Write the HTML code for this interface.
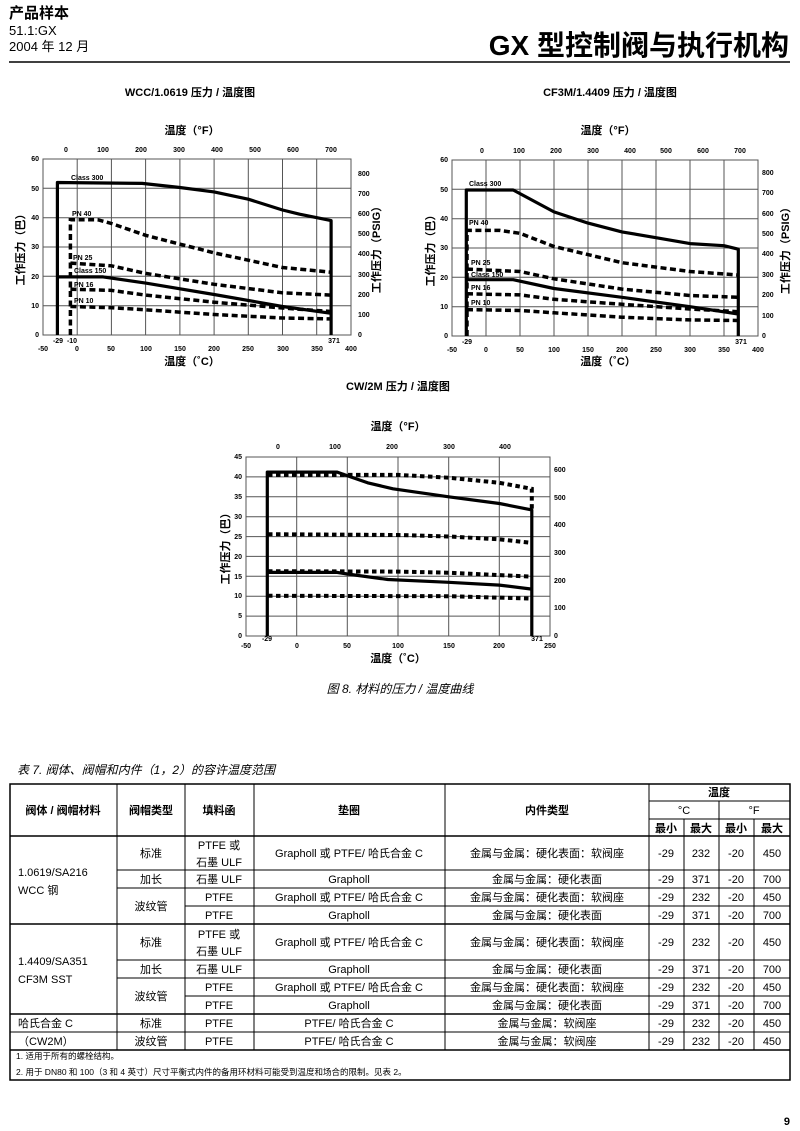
<!DOCTYPE html>
<html><head><meta charset="utf-8"><style>
html,body{margin:0;padding:0;background:#fff}
svg{display:block;font-family:"Liberation Sans","Noto Sans CJK SC",sans-serif}
.t{font-size:7px;font-weight:bold}
.g{stroke:#555;stroke-width:1;fill:none}
.s{stroke:#000;stroke-width:3.2;fill:none;stroke-linejoin:round}
.d{stroke:#000;stroke-width:3.5;fill:none;stroke-dasharray:6 3.5}
.o{stroke:#000;stroke-width:4;fill:none;stroke-dasharray:4.5 3.5}
.tb{stroke:#000;stroke-width:1;fill:none}
</style></head><body>
<svg width="800" height="1131" viewBox="0 0 800 1131">
<text x="9" y="18" font-size="15" font-weight="bold">产品样本</text>
<text x="9" y="35" font-size="13">51.1:GX</text>
<text x="9" y="51" font-size="13">2004 年 12 月</text>
<text x="789" y="55" font-size="28" font-weight="bold" text-anchor="end">GX 型控制阀与执行机构</text>
<line x1="9" y1="62" x2="790" y2="62" stroke="#000" stroke-width="1.5"/>

<text x="190" y="96" font-size="11" font-weight="bold" text-anchor="middle">WCC/1.0619 压力 / 温度图</text>
<text x="610" y="96" font-size="11" font-weight="bold" text-anchor="middle">CF3M/1.4409 压力 / 温度图</text>

<text x="192" y="134" font-size="11" font-weight="bold" text-anchor="middle">温度（°F）</text>
<g class="g">
<rect x="43" y="159" width="308" height="176"/>
<path d="M77.2 159V335M111.4 159V335M145.6 159V335M179.9 159V335M214.1 159V335M248.3 159V335M282.5 159V335M316.7 159V335"/>
<path d="M43 305.7H351M43 276.3H351M43 247H351M43 217.7H351M43 188.3H351"/>
</g>
<g class="t" text-anchor="middle">
<text x="43" y="351">-50</text><text x="77" y="351">0</text><text x="111" y="351">50</text><text x="146" y="351">100</text><text x="180" y="351">150</text><text x="214" y="351">200</text><text x="248" y="351">250</text><text x="283" y="351">300</text><text x="317" y="351">350</text><text x="351" y="351">400</text>
<text x="58" y="343">-29</text><text x="72" y="343">-10</text><text x="334" y="343">371</text>
<text x="66" y="152">0</text><text x="103" y="152">100</text><text x="141" y="152">200</text><text x="179" y="152">300</text><text x="217" y="152">400</text><text x="255" y="152">500</text><text x="293" y="152">600</text><text x="331" y="152">700</text>
</g>
<g class="t" text-anchor="end">
<text x="39" y="337">0</text><text x="39" y="308">10</text><text x="39" y="279">20</text><text x="39" y="249">30</text><text x="39" y="220">40</text><text x="39" y="191">50</text><text x="39" y="161">60</text>
</g>
<g class="t">
<text x="358" y="337">0</text><text x="358" y="317">100</text><text x="358" y="297">200</text><text x="358" y="277">300</text><text x="358" y="256">400</text><text x="358" y="236">500</text><text x="358" y="216">600</text><text x="358" y="196">700</text><text x="358" y="176">800</text>
<text x="71" y="180">Class 300</text><text x="72" y="216">PN 40</text><text x="73" y="260">PN 25</text><text x="74" y="273">Class 150</text><text x="74" y="287">PN 16</text><text x="74" y="303">PN 10</text>
</g>
<path class="s" d="M57.4 335V182.5L142.2 183.4L179.9 187.5L214.1 191.9L248.3 199.2L282.5 210L299.6 214.2L331.1 220.6V335"/>
<path class="s" d="M57.4 276.9H103.2L145.6 283.1L214.1 294.5L282.5 306.5L331.1 313.3"/>
<path class="d" d="M70.4 335V219.7H97.7L111.4 223.5L145.6 235.3L214.1 252.9L282.5 267.5L331.1 272.2"/>
<path class="d" d="M70.4 263.1L111.4 265.8L145.6 273.4L214.1 284.3L282.5 292.8L331.1 295.1"/>
<path class="d" d="M70.4 289.2L111.4 290.4L145.6 295.1L214.1 302.2L282.5 308L331.1 311.5"/>
<path class="d" d="M70.4 306.5L111.4 307.7L145.6 309.8L214.1 314.5L282.5 318L331.1 318.9"/>
<text x="192" y="365" font-size="11" font-weight="bold" text-anchor="middle">温度（˚C）</text>
<text transform="translate(24 247) rotate(-90)" font-size="11" font-weight="bold" text-anchor="middle">工作压力（巴）</text>
<text transform="translate(380 247) rotate(-90)" font-size="11" font-weight="bold" text-anchor="middle">工作压力（PSIG）</text>

<text x="608" y="134" font-size="11" font-weight="bold" text-anchor="middle">温度（°F）</text>
<g class="g">
<rect x="452" y="160" width="306" height="176"/>
<path d="M486 160V336M520 160V336M554 160V336M588 160V336M622 160V336M656 160V336M690 160V336M724 160V336"/>
<path d="M452 306.7H758M452 277.3H758M452 248H758M452 218.7H758M452 189.3H758"/>
</g>
<g class="t" text-anchor="middle">
<text x="452" y="352">-50</text><text x="486" y="352">0</text><text x="520" y="352">50</text><text x="554" y="352">100</text><text x="588" y="352">150</text><text x="622" y="352">200</text><text x="656" y="352">250</text><text x="690" y="352">300</text><text x="724" y="352">350</text><text x="758" y="352">400</text>
<text x="467" y="344">-29</text><text x="741" y="344">371</text>
<text x="482" y="153">0</text><text x="519" y="153">100</text><text x="556" y="153">200</text><text x="593" y="153">300</text><text x="630" y="153">400</text><text x="666" y="153">500</text><text x="703" y="153">600</text><text x="740" y="153">700</text>
</g>
<g class="t" text-anchor="end">
<text x="448" y="338">0</text><text x="448" y="309">10</text><text x="448" y="280">20</text><text x="448" y="250">30</text><text x="448" y="221">40</text><text x="448" y="192">50</text><text x="448" y="162">60</text>
</g>
<g class="t">
<text x="762" y="338">0</text><text x="762" y="318">100</text><text x="762" y="297">200</text><text x="762" y="277">300</text><text x="762" y="256">400</text><text x="762" y="236">500</text><text x="762" y="216">600</text><text x="762" y="195">700</text><text x="762" y="175">800</text>
<text x="469" y="186">Class 300</text><text x="469" y="225">PN 40</text><text x="471" y="265">PN 25</text><text x="471" y="277">Class 150</text><text x="471" y="290">PN 16</text><text x="471" y="305">PN 10</text>
</g>
<path class="s" d="M466.3 336V190H513.2L554 211.9L588 223.1L622 231.9L656 237.7L690 243.6L724 245.7L738.3 249.2V336"/>
<path class="s" d="M466.3 279.7H513.2L554 288.5L622 297.3L690 306.7L738.3 314"/>
<path class="d" d="M467 336V230.4H499.6L520 233.3L554 246.5L622 262.7L690 271.5L738.3 275"/>
<path class="d" d="M467 269.1L520 271.5L554 278.8L622 289.1L690 295.5L738.3 297.3"/>
<path class="d" d="M467 293.8L520 294.9L554 299.3L622 304.3L690 309L738.3 311.7"/>
<path class="d" d="M467 309.6L520 310.5L554 312.8L622 317.2L690 319.9L738.3 320.5"/>
<text x="608" y="365" font-size="11" font-weight="bold" text-anchor="middle">温度（˚C）</text>
<text transform="translate(434 248) rotate(-90)" font-size="11" font-weight="bold" text-anchor="middle">工作压力（巴）</text>
<text transform="translate(789 248) rotate(-90)" font-size="11" font-weight="bold" text-anchor="middle">工作压力（PSIG）</text>

<text x="398" y="390" font-size="11" font-weight="bold" text-anchor="middle">CW/2M 压力 / 温度图</text>
<text x="398" y="430" font-size="11" font-weight="bold" text-anchor="middle">温度（°F）</text>
<g class="g">
<rect x="246" y="457" width="304" height="179"/>
<path d="M296.7 457V636M347.3 457V636M398 457V636M448.7 457V636M499.3 457V636"/>
<path d="M246 616.1H550M246 596.2H550M246 576.3H550M246 556.4H550M246 536.6H550M246 516.7H550M246 496.8H550M246 476.9H550"/>
</g>
<g class="t" text-anchor="middle">
<text x="246" y="648">-50</text><text x="297" y="648">0</text><text x="347" y="648">50</text><text x="398" y="648">100</text><text x="449" y="648">150</text><text x="499" y="648">200</text><text x="550" y="648">250</text>
<text x="267" y="641">-29</text><text x="537" y="641">371</text>
<text x="278" y="449">0</text><text x="335" y="449">100</text><text x="392" y="449">200</text><text x="449" y="449">300</text><text x="505" y="449">400</text>
</g>
<g class="t" text-anchor="end">
<text x="242" y="638">0</text><text x="242" y="618">5</text><text x="242" y="598">10</text><text x="242" y="579">15</text><text x="242" y="559">20</text><text x="242" y="539">25</text><text x="242" y="519">30</text><text x="242" y="499">35</text><text x="242" y="479">40</text><text x="242" y="459">45</text>
</g>
<g class="t">
<text x="554" y="638">0</text><text x="554" y="610">100</text><text x="554" y="583">200</text><text x="554" y="555">300</text><text x="554" y="527">400</text><text x="554" y="500">500</text><text x="554" y="472">600</text>
</g>
<path class="s" d="M267.3 636V472.1H337.2L347.4 475.7L367.6 482.8L393 488.8L448.7 496.8L499.4 503.5L531.8 509.9V636"/>
<path class="s" d="M267.3 572.4H337.2L347.4 574L387.9 579.5L448.7 582.3L499.4 585.1L531.8 589.1"/>
<path class="o" d="M268 474.9H398L448.7 477.7L499.4 482.8L531.8 488.8V509"/>
<path class="o" d="M268 534.2L398 535L448.7 536.5L499.4 539.3L531.8 542.9"/>
<path class="o" d="M268 571.2L398 571.6L448.7 572.7L499.4 575.1L531.8 576.7"/>
<path class="o" d="M268 595.8L448.7 596.2L531.8 598.6"/>
<text x="398" y="662" font-size="11" font-weight="bold" text-anchor="middle">温度（˚C）</text>
<text transform="translate(229 546) rotate(-90)" font-size="11" font-weight="bold" text-anchor="middle">工作压力（巴）</text>

<text x="400" y="693" font-size="12" font-style="italic" text-anchor="middle">图 8. 材料的压力 / 温度曲线</text>
<text x="17" y="774" font-size="12" font-style="italic">表 7. 阀体、阀帽和内件（1，2）的容许温度范围</text>

<g class="tb">
<rect x="10" y="784" width="780" height="296" stroke-width="1.5"/>
<path d="M10 836H790M10 924H790M10 1014H790M10 1050H790" stroke-width="1.5"/>
<path d="M117 784V1050M185 784V1050M254 784V1050M445 784V1050M649 784V1050M719 801V1050M684 819V1050M754 819V1050"/>
<path d="M649 801H790M649 819H790"/>
<path d="M117 870H790M117 888H790M185 906H790M117 960H790M117 978H790M185 996H790M10 1032H790"/>
</g>
<g font-size="11">
<g text-anchor="middle" font-weight="bold">
<text x="63" y="814">阀体 / 阀帽材料</text><text x="151" y="814">阀帽类型</text><text x="219" y="814">填料函</text><text x="349" y="814">垫圈</text><text x="547" y="814">内件类型</text>
<text x="719" y="796">温度</text><text x="684" y="814" font-weight="normal">°C</text><text x="754" y="814" font-weight="normal">°F</text>
<text x="666" y="832">最小</text><text x="701" y="832">最大</text><text x="736" y="832">最小</text><text x="772" y="832">最大</text>
</g>
<text x="18" y="876">1.0619/SA216</text><text x="18" y="894">WCC 钢</text>
<text x="18" y="965">1.4409/SA351</text><text x="18" y="983">CF3M SST</text>
<text x="18" y="1027">哈氏合金 C</text><text x="18" y="1045">（CW2M）</text>
<g text-anchor="middle">
<text x="151" y="857">标准</text><text x="219" y="849">PTFE 或</text><text x="219" y="866">石墨 ULF</text><text x="349" y="857">Grapholl 或 PTFE/ 哈氏合金 C</text><text x="547" y="857">金属与金属：硬化表面：软阀座</text>
<text x="666" y="857">-29</text><text x="701" y="857">232</text><text x="736" y="857">-20</text><text x="772" y="857">450</text>
<text x="151" y="883">加长</text><text x="219" y="883">石墨 ULF</text><text x="349" y="883">Grapholl</text><text x="547" y="883">金属与金属：硬化表面</text>
<text x="666" y="883">-29</text><text x="701" y="883">371</text><text x="736" y="883">-20</text><text x="772" y="883">700</text>
<text x="151" y="910">波纹管</text>
<text x="219" y="901">PTFE</text><text x="349" y="901">Grapholl 或 PTFE/ 哈氏合金 C</text><text x="547" y="901">金属与金属：硬化表面：软阀座</text>
<text x="666" y="901">-29</text><text x="701" y="901">232</text><text x="736" y="901">-20</text><text x="772" y="901">450</text>
<text x="219" y="919">PTFE</text><text x="349" y="919">Grapholl</text><text x="547" y="919">金属与金属：硬化表面</text>
<text x="666" y="919">-29</text><text x="701" y="919">371</text><text x="736" y="919">-20</text><text x="772" y="919">700</text>
<text x="151" y="946">标准</text><text x="219" y="938">PTFE 或</text><text x="219" y="955">石墨 ULF</text><text x="349" y="946">Grapholl 或 PTFE/ 哈氏合金 C</text><text x="547" y="946">金属与金属：硬化表面：软阀座</text>
<text x="666" y="946">-29</text><text x="701" y="946">232</text><text x="736" y="946">-20</text><text x="772" y="946">450</text>
<text x="151" y="973">加长</text><text x="219" y="973">石墨 ULF</text><text x="349" y="973">Grapholl</text><text x="547" y="973">金属与金属：硬化表面</text>
<text x="666" y="973">-29</text><text x="701" y="973">371</text><text x="736" y="973">-20</text><text x="772" y="973">700</text>
<text x="151" y="1000">波纹管</text>
<text x="219" y="991">PTFE</text><text x="349" y="991">Grapholl 或 PTFE/ 哈氏合金 C</text><text x="547" y="991">金属与金属：硬化表面：软阀座</text>
<text x="666" y="991">-29</text><text x="701" y="991">232</text><text x="736" y="991">-20</text><text x="772" y="991">450</text>
<text x="219" y="1009">PTFE</text><text x="349" y="1009">Grapholl</text><text x="547" y="1009">金属与金属：硬化表面</text>
<text x="666" y="1009">-29</text><text x="701" y="1009">371</text><text x="736" y="1009">-20</text><text x="772" y="1009">700</text>
<text x="151" y="1027">标准</text><text x="219" y="1027">PTFE</text><text x="349" y="1027">PTFE/ 哈氏合金 C</text><text x="547" y="1027">金属与金属：软阀座</text>
<text x="666" y="1027">-29</text><text x="701" y="1027">232</text><text x="736" y="1027">-20</text><text x="772" y="1027">450</text>
<text x="151" y="1045">波纹管</text><text x="219" y="1045">PTFE</text><text x="349" y="1045">PTFE/ 哈氏合金 C</text><text x="547" y="1045">金属与金属：软阀座</text>
<text x="666" y="1045">-29</text><text x="701" y="1045">232</text><text x="736" y="1045">-20</text><text x="772" y="1045">450</text>
</g>
</g>
<text x="16" y="1059" font-size="8.5">1. 适用于所有的螺栓结构。</text>
<text x="16" y="1075" font-size="8.5">2. 用于 DN80 和 100（3 和 4 英寸）尺寸平衡式内件的备用环材料可能受到温度和场合的限制。见表 2。</text>
<text x="790" y="1125" font-size="11" font-weight="bold" text-anchor="end">9</text>
</svg>
</body></html>
